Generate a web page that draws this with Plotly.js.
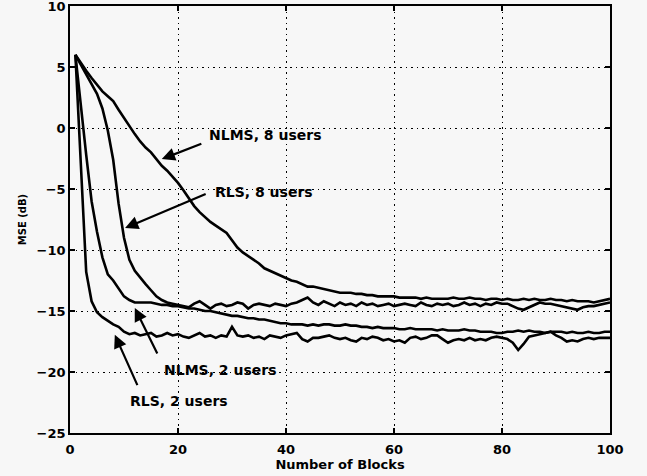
<!DOCTYPE html>
<html>
<head>
<meta charset="utf-8">
<script src="https://cdn.plot.ly/plotly-3.0.1.min.js"></script>
<style>html,body{margin:0;padding:0;background:#f7f7f7;}#chart{width:647px;height:476px;}</style>
</head>
<body>
<div id="chart"></div>
<script>
const blocks = Array.from({length: 100}, (_, i) => i + 1);

const nlms8 = [6.0,5.3,4.7,4.1,3.5,3.0,2.6,2.2,1.5,0.8,
  0.1,-0.5,-1.1,-1.6,-2.0,-2.6,-3.1,-3.5,-4.0,-4.5,
  -5.1,-5.8,-6.4,-6.9,-7.3,-7.7,-8.0,-8.3,-8.6,-9.2,
  -9.8,-10.2,-10.5,-10.8,-11.1,-11.5,-11.7,-11.9,-12.1,-12.3,
  -12.5,-12.6,-12.8,-13.0,-13.0,-13.1,-13.2,-13.3,-13.4,-13.5,
  -13.5,-13.5,-13.6,-13.6,-13.7,-13.7,-13.8,-13.8,-13.8,-13.8,
  -13.9,-13.9,-13.9,-13.9,-14.0,-13.9,-14.0,-14.0,-14.0,-14.0,
  -13.9,-14.0,-14.0,-13.9,-14.0,-14.0,-14.1,-14.0,-14.0,-14.1,
  -14.0,-14.1,-14.1,-14.0,-14.1,-14.0,-14.1,-14.1,-14.0,-14.1,
  -14.1,-14.2,-14.1,-14.2,-14.2,-14.2,-14.3,-14.2,-14.1,-14.0];

const rls8 = [6.0,5.2,4.5,3.7,2.8,1.6,-0.2,-2.6,-6.2,-9.0,
  -10.8,-11.7,-12.3,-12.8,-13.3,-13.8,-14.1,-14.3,-14.4,-14.5,
  -14.6,-14.7,-14.4,-14.2,-14.5,-14.8,-14.5,-14.4,-14.6,-14.5,
  -14.3,-14.4,-14.8,-14.5,-14.4,-14.5,-14.6,-14.4,-14.5,-14.6,
  -14.4,-14.3,-14.1,-13.9,-14.3,-14.5,-14.2,-14.4,-14.6,-14.3,
  -14.5,-14.4,-14.6,-14.3,-14.5,-14.4,-14.6,-14.5,-14.4,-14.6,
  -14.5,-14.4,-14.5,-14.6,-14.3,-14.5,-14.6,-14.4,-14.5,-14.4,
  -14.6,-14.5,-14.3,-14.5,-14.4,-14.6,-14.4,-14.5,-14.3,-14.4,
  -14.4,-14.6,-14.8,-14.9,-14.7,-14.5,-14.3,-14.4,-14.4,-14.5,
  -14.6,-14.7,-14.8,-14.9,-14.7,-14.6,-14.6,-14.5,-14.4,-14.3];

const nlms2 = [6.0,1.8,-2.2,-6.0,-8.5,-10.6,-12.0,-12.5,-13.1,-13.8,
  -14.1,-14.3,-14.3,-14.3,-14.3,-14.4,-14.5,-14.5,-14.6,-14.6,
  -14.7,-14.8,-14.8,-14.9,-15.0,-15.0,-15.1,-15.2,-15.3,-15.4,
  -15.4,-15.5,-15.6,-15.6,-15.7,-15.7,-15.8,-15.9,-16.0,-16.0,
  -16.1,-16.1,-16.1,-16.2,-16.1,-16.2,-16.1,-16.1,-16.2,-16.2,
  -16.1,-16.2,-16.2,-16.3,-16.3,-16.4,-16.3,-16.4,-16.4,-16.4,
  -16.5,-16.5,-16.4,-16.5,-16.5,-16.5,-16.5,-16.6,-16.5,-16.6,
  -16.6,-16.6,-16.5,-16.6,-16.6,-16.7,-16.7,-16.7,-16.8,-16.8,
  -16.7,-16.7,-16.6,-16.7,-16.6,-16.7,-16.7,-16.8,-16.7,-16.7,
  -16.7,-16.8,-16.7,-16.8,-16.8,-16.7,-16.8,-16.8,-16.7,-16.7];

const rls2 = [6.0,-3.0,-11.8,-14.2,-15.1,-15.5,-15.8,-16.1,-16.3,-16.7,
  -16.9,-16.8,-17.0,-16.9,-16.8,-17.1,-17.0,-16.8,-17.0,-16.9,
  -17.1,-17.2,-17.0,-16.8,-17.1,-17.0,-17.2,-17.0,-17.1,-16.3,
  -17.0,-17.1,-17.0,-17.2,-17.1,-17.3,-17.0,-17.1,-17.2,-17.0,
  -16.9,-16.8,-17.3,-17.5,-17.2,-17.2,-17.1,-17.0,-17.2,-17.3,
  -17.2,-17.4,-17.5,-17.2,-17.3,-17.1,-17.2,-17.4,-17.3,-17.5,
  -17.4,-17.6,-17.2,-17.1,-17.3,-17.2,-17.0,-17.0,-17.3,-17.6,
  -17.4,-17.3,-17.4,-17.2,-17.4,-17.3,-17.4,-17.2,-17.1,-17.2,
  -17.3,-17.6,-18.2,-17.7,-17.1,-17.0,-16.9,-16.8,-16.7,-17.0,
  -17.2,-17.5,-17.4,-17.5,-17.3,-17.2,-17.3,-17.2,-17.2,-17.2];

const seriesNames = ['NLMS, 8 users', 'RLS, 8 users', 'NLMS, 2 users', 'RLS, 2 users'];
const seriesValues = [nlms8, rls8, nlms2, rls2];

const xTicks = [0, 20, 40, 60, 80, 100];
const yTicks = [-25, -20, -15, -10, -5, 0, 5, 10];

// label anchor (left edge, middle) and arrow head / tail, in data units
const labelPos = [[25.4, -0.55], [26.5, -5.25], [17.0, -19.85], [10.7, -22.4]];
const arrowHead = [[17.0, -2.55], [10.2, -8.2], [12.0, -14.75], [8.3, -16.95]];
const arrowTail = [[24.6, -1.25], [25.4, -5.35], [16.3, -18.6], [12.6, -21.2]];

const FONT = 'DejaVu Sans, Arial, sans-serif';

const traces = seriesValues.map((vals, i) => ({
  x: blocks, y: vals, type: 'scatter', mode: 'lines', name: seriesNames[i],
  line: {color: '#000', width: 2.6}, hoverinfo: 'skip'
}));

const annotations = [];
seriesNames.forEach((name, i) => {
  annotations.push({
    x: labelPos[i][0], y: labelPos[i][1], xref: 'x', yref: 'y',
    text: name, showarrow: false, xanchor: 'left', yanchor: 'middle',
    font: {family: FONT, size: 14, color: '#000', weight: 'bold'}
  });
  annotations.push({
    x: arrowHead[i][0], y: arrowHead[i][1], xref: 'x', yref: 'y',
    ax: arrowTail[i][0], ay: arrowTail[i][1], axref: 'x', ayref: 'y',
    text: '', showarrow: true, arrowhead: 2, arrowsize: 1.2, arrowwidth: 2.2,
    arrowcolor: '#000', standoff: 0, startstandoff: 0
  });
});

const axisCommon = {
  showline: true, linecolor: '#000', linewidth: 1.8, mirror: 'ticks',
  ticks: 'inside', ticklen: 5, tickwidth: 1.2, tickcolor: '#000',
  showgrid: true, gridcolor: '#000', gridwidth: 1, griddash: '1.5px,4px',
  zeroline: false, automargin: false, ticklabeloverflow: 'allow',
  tickfont: {family: FONT, size: 13, color: '#000', weight: 'bold'}
};

const layout = {
  width: 647, height: 476,
  margin: {l: 70, r: 37, t: 6, b: 43},
  paper_bgcolor: '#f7f7f7', plot_bgcolor: '#f7f7f7',
  showlegend: false,
  xaxis: Object.assign({}, axisCommon, {
    range: [0, 100], tickvals: xTicks, ticktext: xTicks.map(String),
    ticklabelstandoff: 4,
    title: {text: 'Number of Blocks', standoff: 3,
      font: {family: FONT, size: 13, color: '#000', weight: 'bold'}}
  }),
  yaxis: Object.assign({}, axisCommon, {
    range: [-25, 10], tickvals: yTicks, ticktext: yTicks.map(v => v < 0 ? '\u2212' + Math.abs(v) : String(v)),
    title: {text: 'MSE (dB)', standoff: 8,
      font: {family: FONT, size: 10, color: '#000', weight: 'bold'}}
  }),
  annotations: annotations
};

Plotly.newPlot('chart', traces, layout, {staticPlot: true, displayModeBar: false});
</script>
</body>
</html>
